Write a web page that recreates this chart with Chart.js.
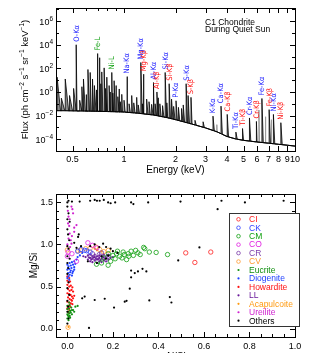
<!DOCTYPE html>
<html>
<head>
<meta charset="utf-8">
<script src="https://cdn.jsdelivr.net/npm/chart.js@4.4.1/dist/chart.umd.min.js"></script>
<style>
  html, body { margin: 0; padding: 0; background: #fff; overflow: hidden; }
  body { width: 319px; height: 353px; position: relative; }
  canvas { position: absolute; left: 0; }
  #spec { top: 0; }
  #ratio { top: 180px; }
</style>
</head>
<body>
<canvas id="spec" width="319" height="180"></canvas>
<canvas id="ratio" width="319" height="190"></canvas>
<script>
(function () {
  'use strict';

  // --- spectrum: continuum (keV, ph cm-2 s-1 sr-1 keV-1) ---
  const contEnergy = [0.40, 0.45, 0.5, 0.6, 0.7, 0.8, 0.9, 1.0, 1.2, 1.5, 1.8, 2.0, 2.5, 3.0, 3.5, 4.0, 4.5, 5.0, 6.0, 7.0, 8.0, 9.0, 10.0];
  const contFlux = [0.026, 0.026, 0.025, 0.024, 0.023, 0.022, 0.021, 0.02, 0.016, 0.011, 0.0065, 0.0045, 0.0019, 0.0009, 0.00042, 0.00017, 0.000105, 0.00008, 0.000058, 0.000046, 0.000037, 0.000031, 0.000026];

  // --- labelled fluorescence lines ---
  const lineLabels = ['O-Kα', 'Fe-L', 'Ni-L', 'Na-Kα', 'Mg-Kα', 'Mg-Kβ', 'Al-Kα', 'Al-Kβ', 'Si-Kα', 'Si-Kβ', 'P-Kα', 'S-Kα', 'S-Kβ',
    'K-Kα', 'Ca-Kα', 'Ca-Kβ', 'Ti-Kα', 'Ti-Kβ', 'Cr-Kα', 'Cr-Kβ', 'Fe-Kα', 'Fe-Kβ', 'Ni-Kα', 'Ni-Kβ'];
  const lineEnergy = [0.525, 0.70, 0.848, 1.041, 1.254, 1.302, 1.487, 1.557, 1.740, 1.836, 2.014, 2.308, 2.464,
    3.314, 3.692, 4.013, 4.511, 4.932, 5.415, 5.947, 6.404, 7.058, 7.478, 8.265];
  const linePeak = [1e4, 1800, 45, 20, 316, 32, 6.3, 1.0, 45, 5, 0.18, 5, 0.35,
    0.009, 0.063, 0.0126, 0.0004, 0.0008, 0.0063, 0.0032, 0.28, 0.032, 0.0126, 0.0025];

  // --- unlabelled lines (black) ---
  const otherEnergy = [0.406, 0.43, 0.453, 0.48, 0.507, 0.55, 0.567, 0.579, 0.60, 0.615, 0.634, 0.654, 0.671, 0.69, 0.718, 0.73, 0.741, 0.765,
    0.78, 0.793, 0.818, 0.83, 0.86, 0.875, 0.898, 0.92, 0.935, 0.95, 0.97, 1.0, 1.07, 1.109, 1.14, 1.186, 1.21, 1.28, 1.356, 1.40, 1.45,
    1.52, 1.585, 1.62, 1.68, 1.78, 1.896, 1.95, 2.08, 2.17, 2.22, 2.37, 2.6, 2.9];
  const otherPeak = [18, 0.3, 12.6, 0.5, 2, 0.2, 2.8, 12.6, 0.6, 80, 45, 12.6, 3.5, 1.5, 800, 5, 50, 110,
    2, 18, 3.5, 1, 0.8, 9, 3.5, 0.4, 1.8, 0.15, 0.63, 0.2, 0.1, 0.5, 0.12, 0.35, 0.08, 0.1, 0.25, 0.15, 0.09,
    0.1, 0.32, 0.1, 0.07, 0.12, 0.25, 0.06, 0.05, 0.04, 0.08, 0.5, 0.004, 0.003];

  // --- grey lines ---
  const greyEnergy = [3.49, 6.15, 6.70, 7.25];
  const greyPeak = [0.0017, 0.03, 0.008, 0.0045];

  const energyTicks = [0.5, 1, 2, 3, 4, 5, 6, 7, 8, 9, 10];
  const fluxTicks = [1e-4, 1e-2, 1, 1e2, 1e4, 1e6];

  // --- Mg/Si vs Al/Si ---
  const groupNames = ['CI', 'CK', 'CM', 'CO', 'CR', 'CV', 'Eucrite', 'Diogenite', 'Howardite', 'LL', 'Acapulcoite', 'Ureilite', 'Others'];
  const ciPts = [[0.52, 0.90], [0.56, 0.786], [0.63, 0.91]];
  const ckPts = [[0.076, 0.93], [0.085, 0.925], [0.06, 0.94], [0.10, 0.91], [0.045, 0.92]];
  const cmPts = [[0.128, 0.765], [0.179, 0.753], [0.20, 0.87], [0.216, 0.89], [0.23, 0.86], [0.245, 0.91], [0.25, 0.88], [0.267, 0.89],
    [0.28, 0.92], [0.29, 0.87], [0.30, 0.93], [0.31, 0.90], [0.32, 0.88], [0.34, 0.95], [0.335, 0.965], [0.36, 0.91], [0.39, 0.905],
    [0.44, 0.88], [0.21, 0.83], [0.24, 0.84], [0.26, 0.82], [0.19, 0.80], [0.15, 0.78], [0.27, 0.86], [0.22, 0.92], [0.18, 0.89], [0.16, 0.84]];
  const coPts = [[0.09, 1.02], [0.04, 0.80], [0.003, 0.91], [0.11, 0.99], [0.0, 0.86], [0.13, 0.96], [0.02, 0.89]];
  const crPts = [[0.10, 0.86], [0.12, 0.84], [0.14, 0.88], [0.16, 0.85], [0.13, 0.81], [0.18, 0.86], [0.11, 0.89], [0.15, 0.90], [0.17, 0.82]];
  const cvPts = [[0.047, 0.925], [0.057, 0.93], [0.142, 0.94], [0.16, 0.915], [0.003, 0.016], [0.10, 0.955], [0.125, 0.97], [0.0, 0.935], [0.18, 0.93], [0.08, 0.95]];
  const eucritePts = [[0.0, 0.12], [0.005, 0.14], [0.01, 0.15], [0.0, 0.17], [0.008, 0.18], [0.015, 0.19], [0.003, 0.2], [0.012, 0.21],
    [0.02, 0.22], [0.0, 0.23], [0.007, 0.24], [0.017, 0.25], [0.025, 0.22], [0.03, 0.2], [0.045, 0.27], [0.035, 0.26], [0.0, 0.27],
    [0.01, 0.28], [0.005, 0.10], [0.012, 0.13], [0.002, 0.16], [0.02, 0.17], [0.008, 0.31]];
  const diogenitePts = [[0.0, 0.6], [0.005, 0.62], [0.01, 0.64], [0.02, 0.63], [0.003, 0.66], [0.012, 0.67], [0.025, 0.68], [0.0, 0.70],
    [0.008, 0.71], [0.018, 0.72], [0.03, 0.73], [0.005, 0.74], [0.015, 0.75], [0.025, 0.76], [0.035, 0.77], [0.01, 0.78], [0.02, 0.79],
    [0.03, 0.80], [0.04, 0.82], [0.045, 0.85], [0.055, 0.87], [0.065, 0.90], [0.0, 0.76], [0.015, 0.69], [0.022, 0.66], [0.008, 0.58], [0.03, 0.70]];
  const howarditePts = [[0.0, 0.57], [0.006, 0.55], [0.012, 0.56], [0.0, 0.52], [0.008, 0.50], [0.015, 0.51], [0.022, 0.49], [0.003, 0.47],
    [0.01, 0.45], [0.018, 0.46], [0.025, 0.44], [0.0, 0.42], [0.007, 0.41], [0.014, 0.40], [0.02, 0.38], [0.03, 0.39], [0.003, 0.37],
    [0.01, 0.35], [0.017, 0.34], [0.0, 0.32], [0.008, 0.31], [0.015, 0.30], [0.022, 0.29], [0.004, 0.27], [0.012, 0.26], [0.0, 0.24],
    [0.008, 0.22], [0.005, 0.19], [0.02, 0.33], [0.025, 0.36], [0.0, 0.62], [0.008, 0.60]];
  const llPts = [[0.08, 0.85], [0.09, 0.82], [0.09, 0.87], [0.10, 0.80], [0.10, 0.84], [0.10, 0.88], [0.11, 0.79], [0.11, 0.83], [0.11, 0.86],
    [0.12, 0.81], [0.12, 0.85], [0.12, 0.88], [0.13, 0.78], [0.13, 0.82], [0.13, 0.86], [0.14, 0.80], [0.14, 0.84], [0.14, 0.87],
    [0.15, 0.79], [0.15, 0.83], [0.15, 0.86], [0.16, 0.81], [0.16, 0.85], [0.16, 0.88], [0.17, 0.80], [0.17, 0.84], [0.18, 0.82],
    [0.18, 0.86], [0.19, 0.84], [0.105, 0.82], [0.115, 0.845], [0.125, 0.835], [0.135, 0.825], [0.145, 0.815], [0.155, 0.845],
    [0.165, 0.83], [0.095, 0.845], [0.175, 0.87], [0.2, 0.85], [0.07, 0.86]];
  const acapulcoitePts = [[0.13, 0.93], [0.15, 0.92], [0.12, 0.95], [0.005, 0.02]];
  const ureilitePts = [[0.018, 1.45], [0.022, 1.42], [0.025, 1.37], [0.005, 1.33], [0.01, 1.30], [0.003, 1.25], [0.008, 1.22], [0.04, 1.23],
    [0.03, 1.20], [0.01, 1.13], [0.02, 1.10], [0.005, 1.07], [0.015, 1.05], [0.018, 1.01], [0.0, 1.0], [0.012, 0.97], [0.03, 1.15], [0.002, 1.40]];
  const othersPts = [[0.0, 1.50], [0.005, 1.52], [0.02, 1.51], [0.054, 1.51], [0.10, 1.52], [0.12, 1.53], [0.13, 1.52], [0.142, 1.52],
    [0.16, 1.53], [0.179, 1.50], [0.19, 1.49], [0.21, 1.50], [0.28, 1.50], [0.29, 1.48], [0.355, 1.50], [0.497, 1.51], [0.66, 1.42],
    [0.677, 1.52], [0.78, 1.50], [0.95, 1.52],
    [0.0, 1.45], [0.005, 1.37], [0.0, 1.30], [0.01, 1.27], [0.0, 1.18], [0.003, 1.12], [0.008, 1.05], [0.0, 0.98], [0.005, 0.95],
    [0.0, 0.86], [0.01, 0.83], [0.0, 0.78], [0.003, 0.72], [0.0, 0.65], [0.005, 0.55], [0.0, 0.48], [0.008, 0.40], [0.0, 0.33],
    [0.003, 0.26], [0.0, 0.20], [0.005, 0.12], [0.0, 0.06],
    [0.047, 1.09], [0.05, 1.12], [0.03, 1.02], [0.04, 0.96], [0.06, 0.98],
    [0.10, 0.98], [0.12, 1.0], [0.157, 1.01], [0.17, 0.97], [0.14, 0.97], [0.19, 0.95], [0.2, 0.92], [0.22, 0.9], [0.18, 0.87],
    [0.09, 0.80], [0.13, 0.78], [0.15, 0.86], [0.17, 0.83],
    [0.28, 0.69], [0.296, 0.66], [0.31, 0.68], [0.33, 0.71], [0.347, 0.68], [0.28, 0.61], [0.274, 0.475], [0.252, 0.32], [0.26, 0.33],
    [0.205, 0.25], [0.164, 0.355], [0.12, 0.34], [0.076, 0.38], [0.065, 0.36], [0.095, 0.008], [0.36, 0.335], [0.45, 0.375],
    [0.457, 0.31], [0.487, 0.81], [0.58, 0.965]];
  const groupPts = [ciPts, ckPts, cmPts, coPts, crPts, cvPts, eucritePts, diogenitePts, howarditePts, llPts, acapulcoitePts, ureilitePts, othersPts];

  const alTicks = [0, 0.2, 0.4, 0.6, 0.8, 1.0];
  const mgTicks = [0, 0.5, 1.0, 1.5];

  // styles
  const FONT = '"Liberation Sans", Arial, sans-serif';
  const NARROW = '"Liberation Sans Narrow", "DejaVu Sans Condensed", "Liberation Sans", sans-serif';
  const groupColors = ['#ff2020', '#3040ff', '#10a010', '#e020e0', '#7a3aa8', '#ff9a30',
    '#109010', '#2040ff', '#ff1010', '#6a1a9a', '#ff9a10', '#d020d0', '#000000'];
  const groupOpen = [true, true, true, true, true, true, false, false, false, false, false, false, false];

  function contAt(e) {
    let i = 1;
    while (i < contEnergy.length - 1 && e > contEnergy[i]) i++;
    const t = Math.log(e / contEnergy[i - 1]) / Math.log(contEnergy[i] / contEnergy[i - 1]);
    return Math.exp(Math.log(contFlux[i - 1]) + t * Math.log(contFlux[i] / contFlux[i - 1]));
  }

  // each line is a narrow wedge standing on the continuum
  function spikePoints(energies, peaks, narrow) {
    const pts = contEnergy.map(function (e, i) { return { x: e, y: contFlux[i], k: 0 }; });
    energies.forEach(function (e, i) {
      const w = narrow ? 0.004 : (e < 1.2 ? 0.02 : 0.008);
      const e2 = e * Math.pow(10, w);
      pts.push({ x: e, y: contAt(e), k: 1 }, { x: e, y: peaks[i], k: 2 }, { x: e2, y: contAt(e2), k: 3 });
    });
    pts.sort(function (a, b) { return a.x - b.x || a.k - b.k; });
    return pts;
  }

  // --- inward tick marks on all four sides plus a frame ---
  const frameTicks = {
    id: 'frameTicks',
    afterDatasetsDraw(chart, args, opts) {
      const ctx = chart.ctx, a = chart.chartArea, sx = chart.scales.x, sy = chart.scales.y;
      ctx.save();
      ctx.strokeStyle = '#000';
      ctx.lineWidth = 1;
      ctx.strokeRect(Math.round(a.left) + 0.5, Math.round(a.top) + 0.5, Math.round(a.right - a.left), Math.round(a.bottom - a.top));
      ctx.beginPath();
      function xt(vals, len) {
        vals.forEach(function (v) {
          const p = Math.round(sx.getPixelForValue(v)) + 0.5;
          if (p < a.left + 1 || p > a.right - 1) return;
          ctx.moveTo(p, a.bottom); ctx.lineTo(p, a.bottom - len);
          ctx.moveTo(p, a.top); ctx.lineTo(p, a.top + len);
        });
      }
      function yt(vals, len) {
        vals.forEach(function (v) {
          const p = Math.round(sy.getPixelForValue(v)) + 0.5;
          if (p < a.top + 1 || p > a.bottom - 1) return;
          ctx.moveTo(a.left, p); ctx.lineTo(a.left + len, p);
          ctx.moveTo(a.right, p); ctx.lineTo(a.right - len, p);
        });
      }
      xt(opts.xMajor, 5); xt(opts.xMinor, 3);
      yt(opts.yMajor, 5); yt(opts.yMinor, 3);
      ctx.stroke();
      ctx.restore();
    }
  };

  // --- texts of the spectrum panel ---
  const specText = {
    id: 'specText',
    afterDraw(chart) {
      const ctx = chart.ctx, a = chart.chartArea, sx = chart.scales.x, sy = chart.scales.y;
      ctx.save();
      ctx.fillStyle = '#000';
      ctx.textBaseline = 'alphabetic';
      ctx.textAlign = 'left';

      // y tick labels 10^n
      fluxTicks.forEach(function (v) {
        const y = sy.getPixelForValue(v);
        const exp = String(Math.round(Math.log10(v))).replace('-', '−');
        ctx.font = '6.5px ' + FONT;
        const we = ctx.measureText(exp).width;
        ctx.font = '9px ' + FONT;
        const wb = ctx.measureText('10').width;
        const right = a.left - 3;
        ctx.fillText('10', right - we - wb, y + 3.5);
        ctx.font = '6.5px ' + FONT;
        ctx.fillText(exp, right - we, y - 0.5);
      });

      // y title with superscripts
      const parts = [['Flux (ph cm', 0], ['−2', 1], [' s', 0], ['−1', 1], [' sr', 0], ['−1', 1], [' keV', 0], ['−1', 1], [')', 0]];
      let total = 0;
      parts.forEach(function (p) {
        ctx.font = (p[1] ? '6.5px ' : '9.5px ') + FONT;
        total += ctx.measureText(p[0]).width;
      });
      ctx.translate(25 + 3, (a.top + a.bottom) / 2);
      ctx.rotate(-Math.PI / 2);
      let cx = -total / 2;
      parts.forEach(function (p) {
        ctx.font = (p[1] ? '6.5px ' : '9.5px ') + FONT;
        ctx.fillText(p[0], cx, p[1] ? -4 : 0);
        cx += ctx.measureText(p[0]).width;
      });
      ctx.setTransform(1, 0, 0, 1, 0, 0);

      // panel title
      ctx.font = '8.5px ' + FONT;
      ctx.fillText('C1 Chondrite', a.left + 149, 25);
      ctx.fillText('During Quiet Sun', a.left + 149, 32);

      // line labels, rotated above each line
      ctx.font = '7.5px ' + NARROW;
      ctx.textBaseline = 'middle';
      lineLabels.forEach(function (lab, i) {
        const x = sx.getPixelForValue(lineEnergy[i]);
        const y = sy.getPixelForValue(linePeak[i]);
        ctx.fillStyle = lab.indexOf('Kβ') >= 0 ? '#ff1010' : (lab.indexOf('Kα') >= 0 ? '#2020ff' : '#10a010');
        ctx.save();
        ctx.translate(x + 0.5, y - 3);
        ctx.rotate(-Math.PI / 2);
        ctx.fillText(lab, 0, 0);
        ctx.restore();
      });
      ctx.restore();
    }
  };

  const allEnergy = lineEnergy.concat(otherEnergy);
  const allPeak = linePeak.concat(otherPeak);

  const fluxMinor = [];
  for (let p = -5; p <= 7; p += 2) fluxMinor.push(Math.pow(10, p));

  new Chart(document.getElementById('spec'), {
    type: 'line',
    data: {
      datasets: [
        { data: contEnergy.map(function (e, i) { return { x: e, y: contFlux[i] }; }),
          borderColor: '#000', borderWidth: 1, pointRadius: 0, fill: false, order: 1 },
        { data: spikePoints(greyEnergy, greyPeak, true),
          borderColor: '#9a9a9a', borderWidth: 1, pointRadius: 0, fill: false, order: 2 },
        { data: spikePoints(allEnergy, allPeak, false),
          borderColor: '#000', borderWidth: 0.8, pointRadius: 0, fill: 0,
          backgroundColor: 'rgba(0,0,0,0.45)', order: 0 }
      ]
    },
    options: {
      responsive: false,
      animation: false,
      events: [],
      elements: { line: { tension: 0 } },
      layout: { padding: { top: 8, right: 24, left: 0, bottom: 0 } },
      plugins: {
        legend: { display: false },
        tooltip: { enabled: false },
        frameTicks: { xMajor: energyTicks, xMinor: [0.6, 0.7, 0.8, 0.9], yMajor: fluxTicks, yMinor: fluxMinor }
      },
      scales: {
        x: {
          type: 'logarithmic', min: 0.4, max: 10,
          afterBuildTicks: function (s) { s.ticks = energyTicks.map(function (v) { return { value: v }; }); },
          afterFit: function (s) { s.height = 29; },
          grid: { display: false, drawTicks: false },
          border: { display: false },
          ticks: { autoSkip: false, maxRotation: 0, minRotation: 0, padding: 3, color: '#000',
            font: { family: FONT, size: 9 }, callback: function (v) { return String(v); } },
          title: { display: true, text: 'Energy (keV)', color: '#000', font: { family: FONT, size: 10 }, padding: { top: 0, bottom: 3.5 } }
        },
        y: {
          type: 'logarithmic', min: 1e-5, max: 1.3e7,
          afterBuildTicks: function (s) { s.ticks = fluxTicks.map(function (v) { return { value: v }; }); },
          afterFit: function (s) { s.width = 56; },
          grid: { display: false, drawTicks: false },
          border: { display: false },
          ticks: { display: false }
        }
      }
    },
    plugins: [frameTicks, specText]
  });

  // --- legend box for the ratio panel ---
  const boxLegend = {
    id: 'boxLegend',
    afterDatasetsDraw(chart) {
      const ctx = chart.ctx;
      const left = 229, top = 33, w = 70, h = 113, step = 8.45;
      ctx.save();
      ctx.fillStyle = '#fff';
      ctx.fillRect(left, top, w, h);
      ctx.strokeStyle = '#333';
      ctx.lineWidth = 1;
      ctx.strokeRect(left + 0.5, top + 0.5, w, h);
      ctx.font = '8.5px ' + FONT;
      ctx.textBaseline = 'middle';
      ctx.textAlign = 'left';
      chart.data.datasets.forEach(function (ds, i) {
        const y = top + 6.3 + i * step;
        ctx.beginPath();
        if (groupOpen[i]) {
          ctx.arc(left + 9.5, y, 1.8, 0, Math.PI * 2);
          ctx.strokeStyle = ds.pointBorderColor;
          ctx.lineWidth = 0.8;
          ctx.stroke();
        } else {
          ctx.arc(left + 9.5, y, 1.1, 0, Math.PI * 2);
          ctx.fillStyle = ds.pointBackgroundColor;
          ctx.fill();
        }
        ctx.fillStyle = ds.pointBorderColor;
        ctx.fillText(ds.label, left + 20, y + 0.5);
      });
      ctx.restore();
    }
  };

  const alMinor = [], mgMinor = [];
  for (let i = -1; i <= 20; i++) alMinor.push(i * 0.05);
  for (let i = -1; i <= 16; i++) mgMinor.push(i * 0.1);

  new Chart(document.getElementById('ratio'), {
    type: 'scatter',
    data: {
      datasets: groupNames.map(function (name, i) {
        return {
          label: name,
          data: groupPts[i].map(function (p) { return { x: p[0], y: p[1] }; }),
          pointRadius: groupOpen[i] ? 2.2 : 1.1,
          pointBorderWidth: groupOpen[i] ? 0.8 : 0,
          pointBorderColor: groupColors[i],
          pointBackgroundColor: groupOpen[i] ? 'rgba(0,0,0,0)' : groupColors[i],
          order: name === 'Others' ? -1 : i
        };
      })
    },
    options: {
      responsive: false,
      animation: false,
      events: [],
      layout: { padding: { top: 14, right: 24, left: 0, bottom: 0 } },
      plugins: {
        legend: { display: false },
        tooltip: { enabled: false },
        frameTicks: { xMajor: alTicks, xMinor: alMinor, yMajor: mgTicks, yMinor: mgMinor }
      },
      scales: {
        x: {
          type: 'linear', min: -0.05, max: 1.0,
          afterBuildTicks: function (s) { s.ticks = alTicks.map(function (v) { return { value: v }; }); },
          afterFit: function (s) { s.height = 33; },
          grid: { display: false, drawTicks: false },
          border: { display: false },
          ticks: { autoSkip: false, maxRotation: 0, minRotation: 0, padding: 4, color: '#000',
            font: { family: FONT, size: 9 }, callback: function (v) { return v.toFixed(1); } },
          title: { display: true, text: 'Al/Si', color: '#000', font: { family: FONT, size: 10 }, padding: { top: 0, bottom: 6.5 } }
        },
        y: {
          type: 'linear', min: -0.1, max: 1.6,
          afterBuildTicks: function (s) { s.ticks = mgTicks.map(function (v) { return { value: v }; }); },
          afterFit: function (s) { s.width = 56; },
          grid: { display: false, drawTicks: false },
          border: { display: false },
          ticks: { padding: 3, color: '#000', font: { family: FONT, size: 9 }, callback: function (v) { return v.toFixed(1); } },
          title: { display: true, text: 'Mg/Si', color: '#000', font: { family: FONT, size: 10 }, padding: { top: 28, bottom: 0 } }
        }
      }
    },
    plugins: [frameTicks, boxLegend]
  });
})();
</script>
</body>
</html>
